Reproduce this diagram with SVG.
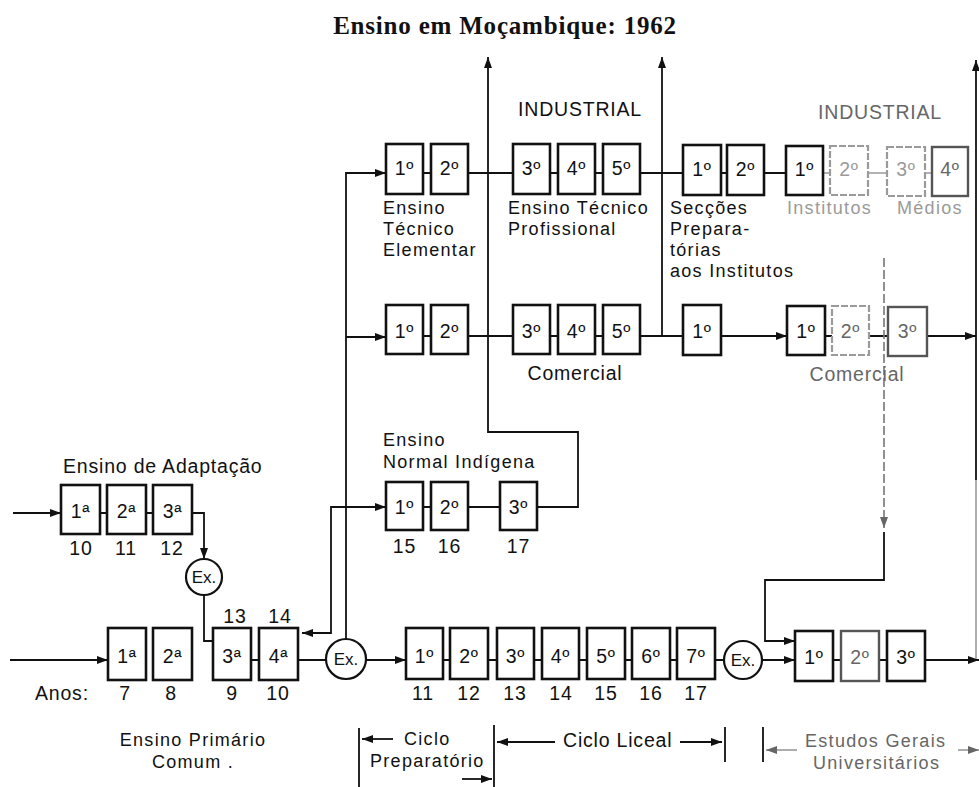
<svg xmlns="http://www.w3.org/2000/svg" width="979" height="787" viewBox="0 0 979 787">
<style>
.box{fill:#fff;stroke:#111;stroke-width:2.6}
.fb{fill:#fff;stroke:#9a9a9a;stroke-width:2.2;stroke-dasharray:7 2}
.mb{fill:#fff;stroke:#555;stroke-width:2.4}
.ln{fill:none;stroke:#111;stroke-width:1.8}
.fl{fill:none;stroke:#999;stroke-width:1.6}
.dl{fill:none;stroke:#777;stroke-width:1.6;stroke-dasharray:9 3}
.ex{fill:#fff;stroke:#111;stroke-width:2.2}
text{font-family:"Liberation Sans",Arial,sans-serif;font-size:19.5px;letter-spacing:0.8px;fill:#111}
.lb{font-size:18px;letter-spacing:1.3px}
.bt{text-anchor:middle}
.c{text-anchor:middle}
.g{fill:#9a9a9a}
.m{fill:#666}
.et{font-size:17px;letter-spacing:0;text-anchor:middle}
.title{font-family:"Liberation Serif","Times New Roman",serif;font-weight:bold;font-size:25px;letter-spacing:0.8px;text-anchor:middle}
</style>
<defs>
<marker id="ah" markerWidth="12" markerHeight="10" refX="11" refY="5" orient="auto-start-reverse" markerUnits="userSpaceOnUse"><path d="M0,1 L11,5 L0,9 z" fill="#111"/></marker>
<marker id="ahg" markerWidth="12" markerHeight="10" refX="11" refY="5" orient="auto-start-reverse" markerUnits="userSpaceOnUse"><path d="M0,1 L11,5 L0,9 z" fill="#666"/></marker>
</defs>
<rect width="979" height="787" fill="#fff"/>
<text class="title" x="505" y="34">Ensino em Moçambique: 1962</text>

<g id="connectors">
<path class="ln" d="M537,507 H578 V432 H488 V57" marker-end="url(#ah)"/>
<path class="ln" d="M662,336 V57" marker-end="url(#ah)"/>
<path class="ln" d="M976,480 V60" marker-end="url(#ah)"/>
<path class="fl" d="M976,480 V660"/>
<path class="ln" d="M346,639 V173 H386" marker-end="url(#ah)"/>
<path class="ln" d="M346,337 H386" marker-end="url(#ah)"/>
<path class="ln" d="M302,633 H331 V507 H386" marker-start="url(#ah)" marker-end="url(#ah)"/>
<path class="ln" d="M423,173 H431 M468,173 H513 M550,173 H558 M595,173 H603 M640,173 H683 M721,173 H727 M764,173 H786"/>
<path class="fl" d="M823,173 H830 M868,173 H887 M925,173 H932"/>
<path class="ln" d="M423,336 H431 M468,336 H513 M550,336 H558 M595,336 H603 M640,336 H683 M825,336 H832 M869,336 H888"/>
<path class="ln" d="M721,336 H787" marker-end="url(#ah)"/>
<path class="ln" d="M927,336 H976" marker-end="url(#ah)"/>
<path class="dl" d="M884,258 V528" marker-end="url(#ahg)"/>
<path class="ln" d="M884,532 V580 H765 V641 H795" marker-end="url(#ah)"/>
<path class="ln" d="M423,507 H431 M468,507 H500"/>
<path class="ln" d="M13,513 H61" marker-end="url(#ah)"/>
<path class="ln" d="M100,513 H107 M146,513 H153"/>
<path class="ln" d="M192,513 H204 V559" marker-end="url(#ah)"/>
<path class="ln" d="M204,595 V641 H213"/>
<path class="ln" d="M10,660 H108" marker-end="url(#ah)"/>
<path class="ln" d="M251,660 H259 M298,660 H326"/>
<path class="ln" d="M366,660 H406" marker-end="url(#ah)"/>
<path class="ln" d="M443,660 H450 M488,660 H497 M534,660 H542 M579,660 H587 M625,660 H632 M670,660 H677 M715,660 H724"/>
<path class="ln" d="M762,660 H795" marker-end="url(#ah)"/>
<path class="ln" d="M833,660 H841 M879,660 H887"/>
<path class="ln" d="M925,660 H979" marker-end="url(#ah)"/>
<path class="ln" d="M359,728 V787 M494,725 V787 M725,727 V762 M763,727 V762"/>
<path class="ln" d="M393,739 H362" marker-end="url(#ah)"/>
<path class="ln" d="M462,779 H492" marker-end="url(#ah)"/>
<path class="ln" d="M555,742 H497" marker-end="url(#ah)"/>
<path class="ln" d="M680,742 H722" marker-end="url(#ah)"/>
<path class="fl" d="M797,750 H766" marker-end="url(#ahg)"/>
<path class="fl" d="M958,750 H979" marker-end="url(#ahg)"/>
</g>

<text class="c" x="580" y="116">INDUSTRIAL</text>
<text class="c m" x="880" y="119">INDUSTRIAL</text>

<g id="r1-1"><rect class="box" x="386" y="144" width="37" height="50"/><text class="bt" x="404.5" y="175">1º</text></g>
<g id="r1-2"><rect class="box" x="431" y="144" width="37" height="50"/><text class="bt" x="449.5" y="175">2º</text></g>
<g id="r1-3"><rect class="box" x="513" y="144" width="37" height="50"/><text class="bt" x="531.5" y="175">3º</text></g>
<g id="r1-4"><rect class="box" x="558" y="144" width="37" height="50"/><text class="bt" x="576.5" y="175">4º</text></g>
<g id="r1-5"><rect class="box" x="603" y="144" width="37" height="50"/><text class="bt" x="621.5" y="175">5º</text></g>
<g id="r1-6"><rect class="box" x="683" y="145" width="38" height="50"/><text class="bt" x="702" y="176">1º</text></g>
<g id="r1-7"><rect class="box" x="727" y="145" width="37" height="50"/><text class="bt" x="745.5" y="176">2º</text></g>
<g id="r1-8"><rect class="box" x="786" y="146" width="37" height="49"/><text class="bt" x="804.5" y="176">1º</text></g>
<g id="r1-9"><rect class="fb" x="830" y="146" width="38" height="49"/><text class="bt g" x="849" y="176">2º</text></g>
<g id="r1-10"><rect class="fb" x="887" y="147" width="38" height="49"/><text class="bt g" x="906" y="176">3º</text></g>
<g id="r1-11"><rect class="mb" x="932" y="147" width="36" height="49"/><text class="bt m" x="950" y="176">4º</text></g>
<g id="r1-labels">
<text class="lb" x="383" y="214">Ensino</text><text class="lb" x="383" y="235">Técnico</text><text class="lb" x="383" y="256">Elementar</text>
<text class="lb" x="508" y="214">Ensino Técnico</text><text class="lb" x="508" y="235">Profissional</text>
<text class="lb" x="670" y="214">Secções</text><text class="lb" x="670" y="235">Prepara-</text><text class="lb" x="670" y="256">tórias</text><text class="lb" x="670" y="277">aos Institutos</text>
<text class="lb g" x="787" y="214" letter-spacing="2">Institutos</text>
<text class="lb g" x="897" y="214" letter-spacing="1.5">Médios</text>
</g>

<g id="r2-1"><rect class="box" x="386" y="305" width="37" height="49"/><text class="bt" x="404.5" y="338">1º</text></g>
<g id="r2-2"><rect class="box" x="431" y="305" width="37" height="49"/><text class="bt" x="449.5" y="338">2º</text></g>
<g id="r2-3"><rect class="box" x="513" y="305" width="37" height="49"/><text class="bt" x="531.5" y="338">3º</text></g>
<g id="r2-4"><rect class="box" x="558" y="305" width="37" height="49"/><text class="bt" x="576.5" y="338">4º</text></g>
<g id="r2-5"><rect class="box" x="603" y="305" width="37" height="49"/><text class="bt" x="621.5" y="338">5º</text></g>
<g id="r2-6"><rect class="box" x="683" y="305" width="38" height="50"/><text class="bt" x="702" y="338">1º</text></g>
<g id="r2-7"><rect class="box" x="787" y="306" width="38" height="49"/><text class="bt" x="806" y="338">1º</text></g>
<g id="r2-8"><rect class="fb" x="832" y="306" width="37" height="49"/><text class="bt m" x="850.5" y="338">2º</text></g>
<g id="r2-9"><rect class="mb" x="888" y="307" width="39" height="49"/><text class="bt m" x="907.5" y="338">3º</text></g>
<text class="c" x="575" y="380">Comercial</text>
<text class="c m" x="857" y="381">Comercial</text>

<text class="lb" x="383" y="446">Ensino</text><text class="lb" x="383" y="468">Normal Indígena</text>
<g id="r3-1"><rect class="box" x="386" y="482" width="37" height="48"/><text class="bt" x="404.5" y="514">1º</text></g>
<g id="r3-2"><rect class="box" x="431" y="482" width="37" height="48"/><text class="bt" x="449.5" y="514">2º</text></g>
<g id="r3-3"><rect class="box" x="500" y="482" width="37" height="48"/><text class="bt" x="518.5" y="514">3º</text></g>
<text class="c" x="404.5" y="553">15</text><text class="c" x="449.5" y="553">16</text><text class="c" x="518.5" y="553">17</text>

<text x="63" y="473">Ensino de Adaptação</text>
<g id="a-1"><rect class="box" x="61" y="485" width="39" height="49"/><text class="bt" x="80.5" y="518">1ª</text></g>
<g id="a-2"><rect class="box" x="107" y="485" width="39" height="49"/><text class="bt" x="126.5" y="518">2ª</text></g>
<g id="a-3"><rect class="box" x="153" y="485" width="39" height="49"/><text class="bt" x="172.5" y="518">3ª</text></g>
<text class="c" x="81" y="555">10</text><text class="c" x="126" y="555">11</text><text class="c" x="172" y="555">12</text>
<g id="ex-1"><circle class="ex" cx="204" cy="577" r="18"/><text class="et" x="204" y="583">Ex.</text></g>

<text class="c" x="235" y="623">13</text><text class="c" x="280" y="623">14</text>
<g id="p-1"><rect class="box" x="108" y="628" width="38" height="52"/><text class="bt" x="127" y="663">1ª</text></g>
<g id="p-2"><rect class="box" x="153" y="628" width="39" height="52"/><text class="bt" x="172.5" y="663">2ª</text></g>
<g id="p-3"><rect class="box" x="213" y="628" width="38" height="52"/><text class="bt" x="232" y="663">3ª</text></g>
<g id="p-4"><rect class="box" x="259" y="628" width="39" height="52"/><text class="bt" x="278.5" y="663">4ª</text></g>
<g id="ex-2"><circle class="ex" cx="346" cy="659" r="20"/><text class="et" x="346" y="665">Ex.</text></g>

<g id="s-1"><rect class="box" x="406" y="628" width="37" height="51"/><text class="bt" x="424.5" y="663">1º</text></g>
<g id="s-2"><rect class="box" x="450" y="628" width="38" height="51"/><text class="bt" x="469" y="663">2º</text></g>
<g id="s-3"><rect class="box" x="497" y="628" width="37" height="51"/><text class="bt" x="515.5" y="663">3º</text></g>
<g id="s-4"><rect class="box" x="542" y="628" width="37" height="51"/><text class="bt" x="560.5" y="663">4º</text></g>
<g id="s-5"><rect class="box" x="587" y="628" width="38" height="51"/><text class="bt" x="606" y="663">5º</text></g>
<g id="s-6"><rect class="box" x="632" y="628" width="38" height="51"/><text class="bt" x="651" y="663">6º</text></g>
<g id="s-7"><rect class="box" x="677" y="628" width="38" height="51"/><text class="bt" x="696" y="663">7º</text></g>
<g id="ex-3"><circle class="ex" cx="743" cy="660" r="19"/><text class="et" x="743" y="666">Ex.</text></g>

<g id="u-1"><rect class="box" x="795" y="631" width="38" height="50"/><text class="bt" x="814" y="664">1º</text></g>
<g id="u-2"><rect class="mb" x="841" y="631" width="38" height="50"/><text class="bt m" x="860" y="664">2º</text></g>
<g id="u-3"><rect class="box" x="887" y="631" width="38" height="50"/><text class="bt" x="906" y="664">3º</text></g>

<text x="35" y="700">Anos:</text>
<text class="c" x="125" y="700">7</text><text class="c" x="171" y="700">8</text><text class="c" x="232" y="700">9</text><text class="c" x="278" y="700">10</text>
<text class="c" x="423" y="700">11</text><text class="c" x="469" y="700">12</text><text class="c" x="515" y="700">13</text><text class="c" x="561" y="700">14</text><text class="c" x="606" y="700">15</text><text class="c" x="651" y="700">16</text><text class="c" x="696" y="700">17</text>

<text class="lb c" x="193" y="746">Ensino Primário</text>
<text class="lb c" x="193" y="768">Comum .</text>
<text class="lb" x="404" y="745">Ciclo</text>
<text class="lb" x="370" y="767">Preparatório</text>
<text x="563" y="747">Ciclo Liceal</text>
<text class="lb m" x="805" y="747">Estudos Gerais</text>
<text class="lb m" x="813" y="769">Universitários</text>
</svg>
